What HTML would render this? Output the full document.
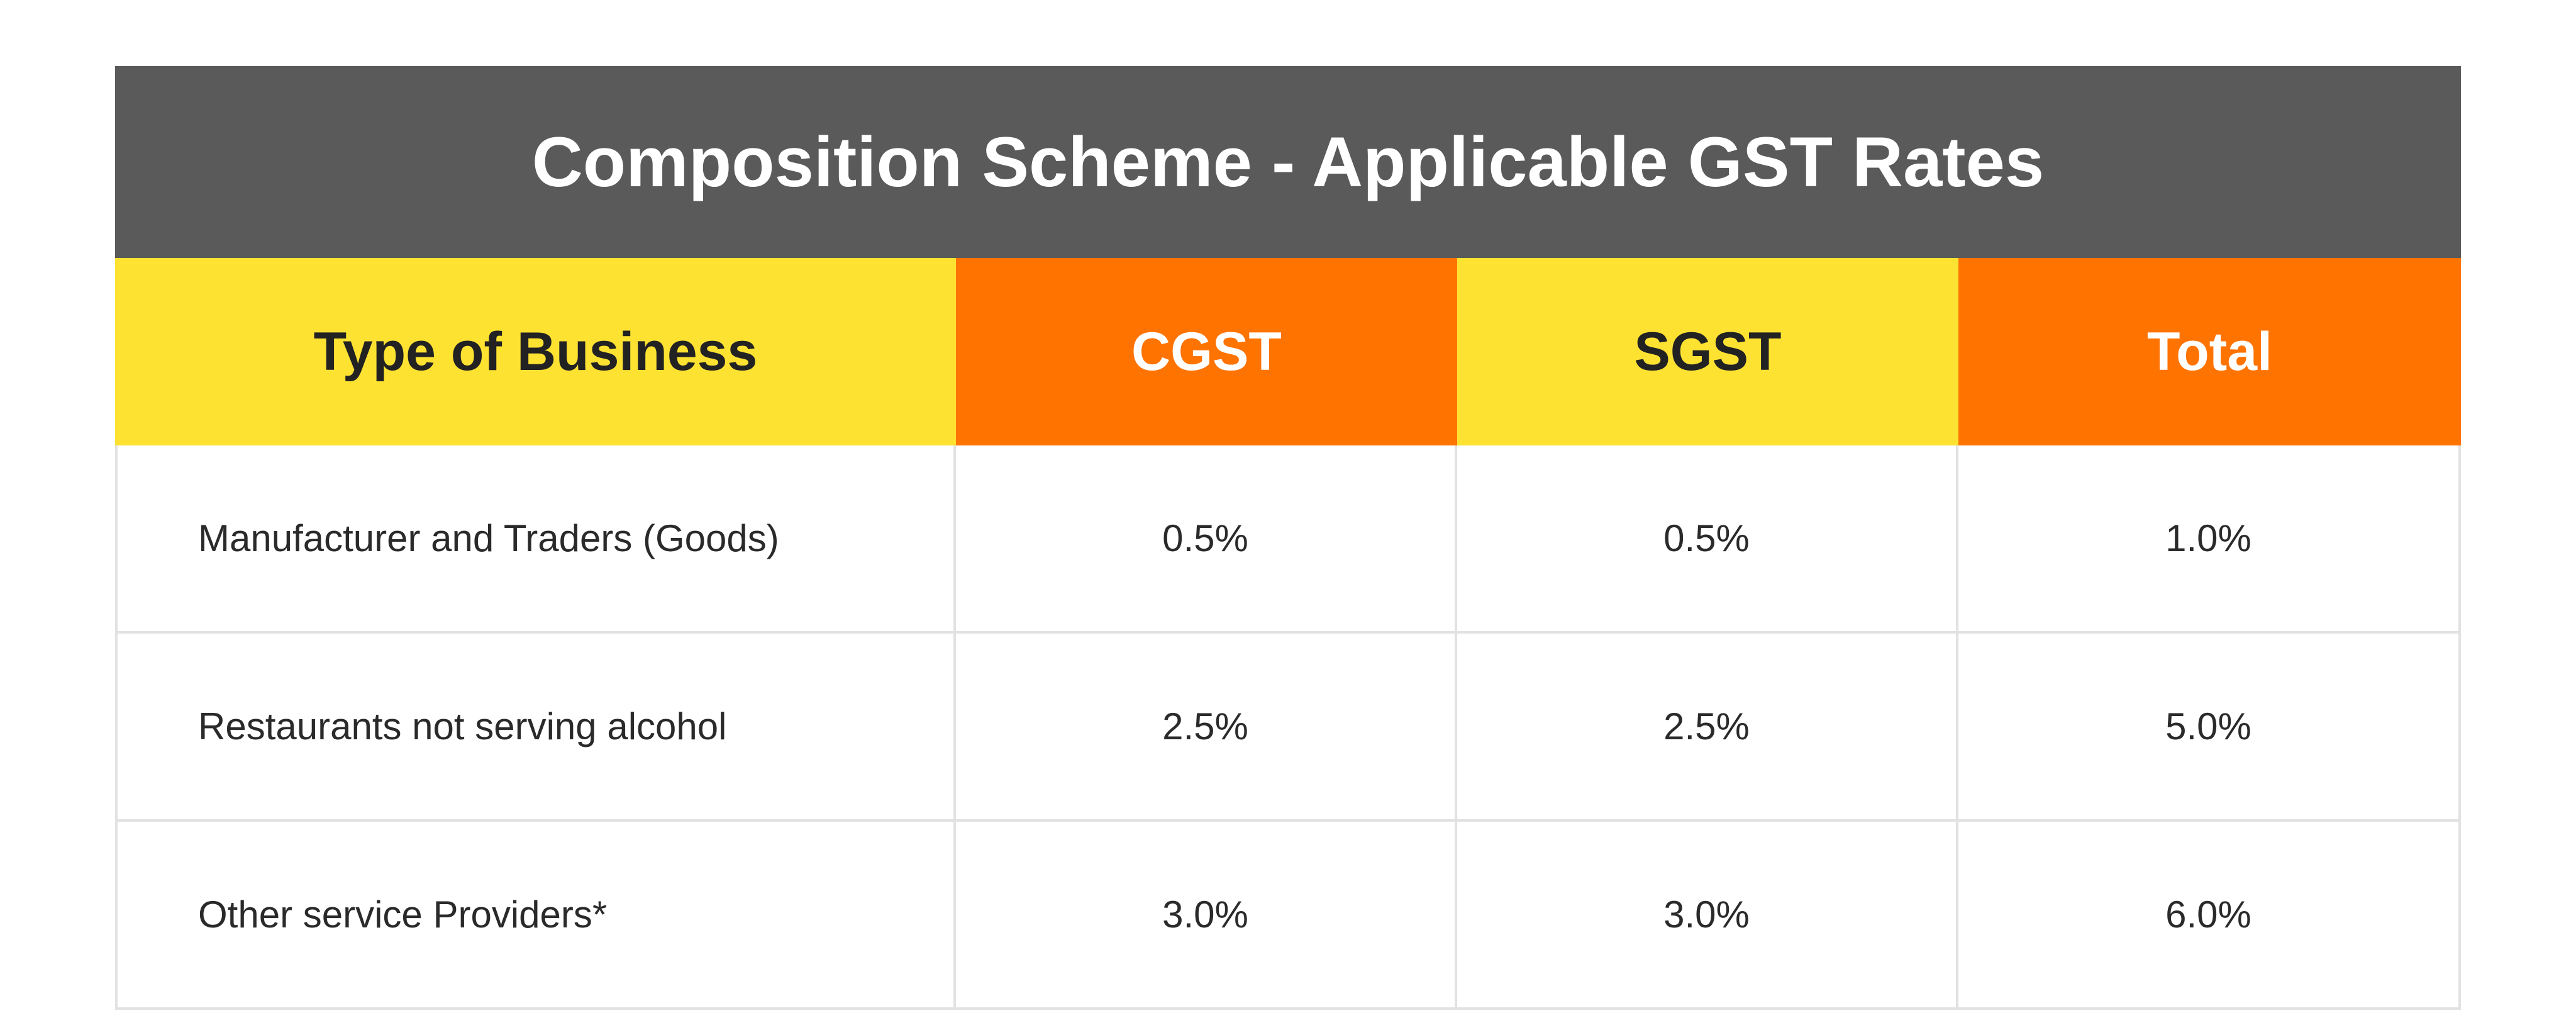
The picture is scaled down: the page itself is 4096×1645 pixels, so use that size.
<!DOCTYPE html>
<html><head><meta charset="utf-8"><style>
body{margin:0;width:4096px;height:1645px;background:#fff;position:relative;font-family:"Liberation Sans",sans-serif;overflow:hidden}
.c{position:absolute;box-sizing:border-box;display:flex;align-items:center;justify-content:center}
#title{left:183px;top:105px;width:3730px;height:305px;background:#5a5a5a;color:#fff;font-size:112px;font-weight:bold}
.h{top:410px;height:298px;font-size:86px;font-weight:bold}
.y{background:#fde232;color:#222}
.o{background:#ff7300;color:#fff}
.d{background:#fff;color:#2a2a2a;font-size:60px;border-right:4px solid #e2e2e2;border-bottom:4px solid #e2e2e2}
.l{justify-content:flex-start;padding-left:128px;border-left:4px solid #e2e2e2}
</style></head><body>
<div id="title" class="c">Composition Scheme - Applicable GST Rates</div>
<div class="c h y" style="left:183px;width:1337px">Type of Business</div>
<div class="c h o" style="left:1520px;width:797px">CGST</div>
<div class="c h y" style="left:2317px;width:797px">SGST</div>
<div class="c h o" style="left:3114px;width:799px">Total</div>
<div id="rows"></div>
<script>
const businesses=["Manufacturer and Traders (Goods)","Restaurants not serving alcohol","Other service Providers*"];
const cgst=["0.5%","2.5%","3.0%"];
const sgst=["0.5%","2.5%","3.0%"];
const total=["1.0%","5.0%","6.0%"];
const cols=[[183,1337],[1520,797],[2317,797],[3114,799]];
const rowTop=708,rowH=299;
const root=document.getElementById('rows');
businesses.forEach((b,i)=>{
  const vals=[b,cgst[i],sgst[i],total[i]];
  vals.forEach((v,j)=>{
    const el=document.createElement('div');
    el.className='c d'+(j===0?' l':'');
    el.style.left=cols[j][0]+'px';el.style.width=cols[j][1]+'px';
    el.style.top=(rowTop+i*rowH)+'px';el.style.height=rowH+'px';
    el.textContent=v;
    
    
    root.appendChild(el);
  });
});
</script>
</body></html>
